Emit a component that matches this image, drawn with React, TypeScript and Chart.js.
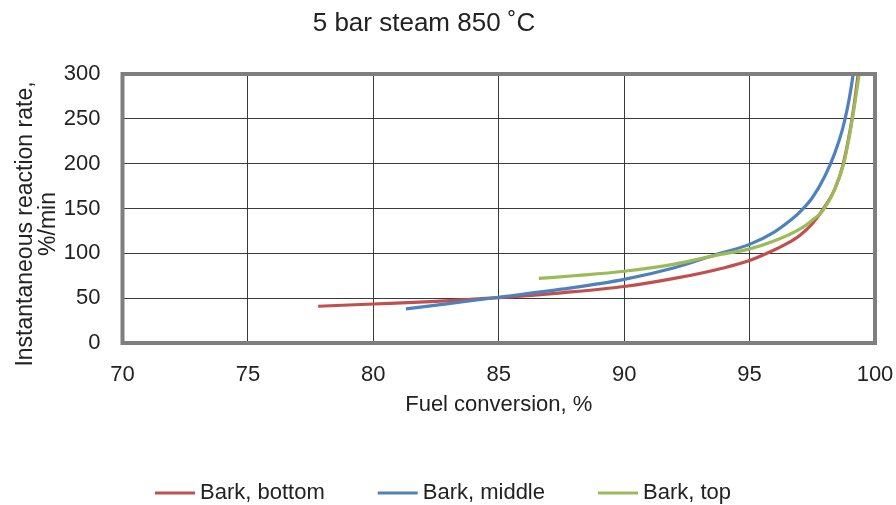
import { useEffect, useRef } from 'react';
import { Chart, registerables } from 'chart.js';

Chart.register(...registerables);

const FONT = '"Liberation Sans", Arial, Helvetica, sans-serif';
const TEXT = '#222222';

const chartTitle = '5 bar steam 850 ˚C';
const xAxisTitle = 'Fuel conversion, %';
const yAxisTitle = ['Instantaneous reaction rate,', '%/min'];

const seriesLabels = ['Bark, bottom', 'Bark, middle', 'Bark, top'];
const seriesColors = ['#C0504D', '#4F81BD', '#9BBB59'];

// Fuel conversion (%) and instantaneous reaction rate (%/min) per sample position
const bottomX = [77.8, 80, 82.5, 85, 87.5, 90, 92, 94, 95, 96, 96.5, 97, 97.5, 98, 98.4, 98.7, 99.0, 99.18, 99.33];
const bottomY = [41, 43.5, 46.5, 50.5, 56, 63, 72, 84, 92, 104, 111, 120, 133, 152, 172, 196, 236, 268, 300];

const middleX = [81.3, 83, 85, 87.5, 90, 92, 93.7, 95, 96, 96.5, 97, 97.5, 98, 98.4, 98.7, 98.9, 99.05, 99.13];
const middleY = [38, 44, 51, 60, 71, 84, 99, 110, 124, 134, 146, 162, 186, 212, 238, 262, 285, 300];

const topX = [86.6, 88, 90, 92, 93.7, 95, 96, 97, 97.5, 97.9, 98.4, 98.75, 99.0, 99.2, 99.37];
const topY = [72, 75, 80, 88, 98, 105, 114, 127, 137, 147, 172, 200, 234, 268, 300];

const xMin = 70;
const xMax = 100;
const xStep = 5;
const yMin = 0;
const yMax = 300;
const yStep = 50;

const toPoints = (xs: number[], ys: number[]) => xs.map((x, i) => ({ x, y: ys[i] }));

// Title, rotated y-axis title, plot frame and legend drawn directly on the canvas
const decorations = {
  id: 'decorations',
  afterDatasetsDraw(chart: any) {
    const { ctx, chartArea } = chart;
    ctx.save();
    ctx.strokeStyle = '#7f7f7f';
    ctx.lineWidth = 4;
    ctx.strokeRect(chartArea.left, chartArea.top, chartArea.right - chartArea.left, chartArea.bottom - chartArea.top);
    ctx.restore();
  },
  afterDraw(chart: any) {
    const { ctx } = chart;
    ctx.save();
    ctx.fillStyle = TEXT;
    ctx.textAlign = 'center';
    ctx.textBaseline = 'middle';

    ctx.font = `26px ${FONT}`;
    ctx.fillText(chartTitle, 424, 24);

    ctx.font = `23px ${FONT}`;
    ctx.save();
    ctx.translate(26, 224);
    ctx.rotate(-Math.PI / 2);
    ctx.fillText(yAxisTitle[0], 0, 0);
    ctx.fillText(yAxisTitle[1], 0, 23);
    ctx.restore();

    ctx.font = `22px ${FONT}`;
    ctx.textAlign = 'left';
    let x = 155;
    const y = 493;
    seriesLabels.forEach((label, i) => {
      ctx.strokeStyle = seriesColors[i];
      ctx.lineWidth = 3;
      ctx.beginPath();
      ctx.moveTo(x, y);
      ctx.lineTo(x + 40, y);
      ctx.stroke();
      ctx.fillText(label, x + 45, y);
      x += 45 + ctx.measureText(label).width + 53;
    });
    ctx.restore();
  },
};

export default function App() {
  const canvasRef = useRef<HTMLCanvasElement>(null);

  useEffect(() => {
    if (!canvasRef.current) return;
    const series = [toPoints(bottomX, bottomY), toPoints(middleX, middleY), toPoints(topX, topY)];
    const chart = new Chart(canvasRef.current, {
      type: 'scatter',
      data: {
        datasets: series.map((data, i) => ({
          label: seriesLabels[i],
          data,
          showLine: true,
          borderColor: seriesColors[i],
          backgroundColor: seriesColors[i],
          borderWidth: 3.2,
          pointRadius: 0,
          cubicInterpolationMode: 'monotone' as const,
          order: 3 - i,
        })),
      },
      options: {
        animation: false,
        responsive: true,
        maintainAspectRatio: false,
        layout: { padding: { top: 74, left: 0, right: 21, bottom: 82 } },
        plugins: {
          legend: { display: false },
          tooltip: { enabled: false },
          title: { display: false },
        },
        scales: {
          x: {
            type: 'linear',
            min: xMin,
            max: xMax,
            ticks: {
              stepSize: xStep,
              padding: 19,
              minRotation: 0,
              maxRotation: 0,
              color: TEXT,
              font: { family: FONT, size: 22 },
            },
            grid: { color: '#3a3a3a', lineWidth: 1, drawTicks: false },
            border: { display: false },
            title: {
              display: true,
              text: xAxisTitle,
              color: TEXT,
              font: { family: FONT, size: 22, lineHeight: 1 },
              padding: { top: 0, bottom: 7 },
            },
            afterFit: (scale: any) => {
              scale.height = 80;
              scale.paddingRight = 0;
            },
          },
          y: {
            type: 'linear',
            min: yMin,
            max: yMax,
            ticks: { stepSize: yStep, padding: 22, color: TEXT, font: { family: FONT, size: 22 } },
            grid: { color: '#3a3a3a', lineWidth: 1, drawTicks: false },
            border: { display: false },
            afterFit: (scale: any) => {
              scale.width = 122.5;
            },
          },
        },
      },
      plugins: [decorations],
    });
    return () => chart.destroy();
  }, []);

  return (
    <div style={{ position: 'absolute', left: 0, top: 0, width: 896, height: 505, background: '#ffffff' }}>
      <canvas ref={canvasRef} />
    </div>
  );
}
